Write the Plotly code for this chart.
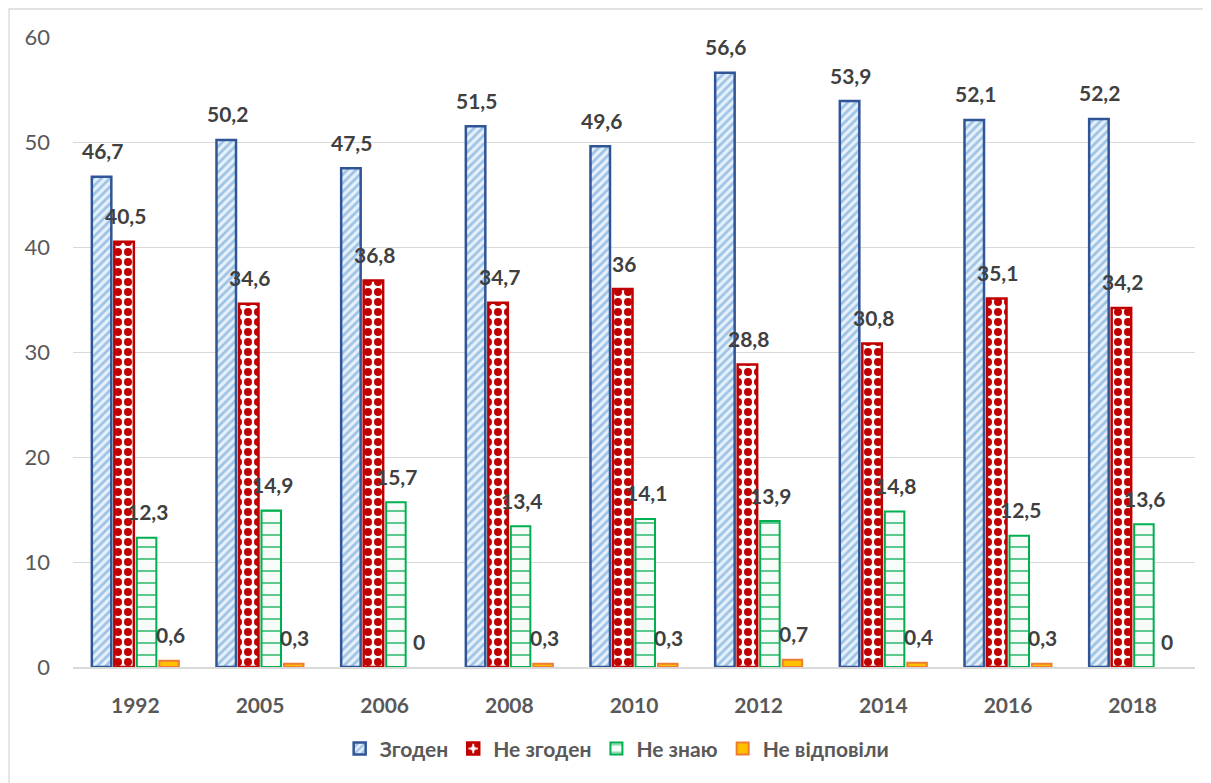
import plotly.graph_objects as go

years = ["1992", "2005", "2006", "2008", "2010", "2012", "2014", "2016", "2018"]
agree = [46.7, 50.2, 47.5, 51.5, 49.6, 56.6, 53.9, 52.1, 52.2]
disagree = [40.5, 34.6, 36.8, 34.7, 36.0, 28.8, 30.8, 35.1, 34.2]
dont_know = [12.3, 14.9, 15.7, 13.4, 14.1, 13.9, 14.8, 12.5, 13.6]
no_answer = [0.6, 0.3, 0.0, 0.3, 0.3, 0.7, 0.4, 0.3, 0.0]
series_names = ["Згоден", "Не згоден", "Не знаю", "Не відповіли"]

FONT = "Lato"
xpos = list(range(len(years)))

def fmt(v):
    s = f"{v:g}"
    return s.replace(".", ",")

styles = [
    dict(line=dict(color="#2F5597", width=2.5),
         pattern=dict(shape="/", fgcolor="#9CC2E5", bgcolor="#E6F0FA", size=6, solidity=0.45, fillmode="replace")),
    dict(line=dict(color="#C00000", width=2.5),
         pattern=dict(shape=".", fgcolor="#C00000", bgcolor="#FFFFFF", size=10, solidity=0.5, fillmode="replace")),
    dict(line=dict(color="#00B050", width=2),
         pattern=dict(shape="-", fgcolor="#4CC383", bgcolor="#F7FCF9", size=12, solidity=0.15, fillmode="replace")),
    dict(line=dict(color="#ED7D31", width=2), color="#FFC000"),
]

fig = go.Figure()
all_series = [agree, disagree, dont_know, no_answer]
for name, vals, st in zip(series_names, all_series, styles):
    st = dict(st)
    line = dict(st["line"])
    line["width"] = [line["width"] if v > 0 else 0 for v in vals]
    st["line"] = line
    fig.add_trace(go.Bar(x=xpos, y=vals, name=name, marker=st, cliponaxis=False))

slot = 22.5
for i, vals in enumerate(all_series):
    for xp, v in zip(xpos, vals):
        fig.add_annotation(x=xp, y=v, xref="x", yref="y", text=fmt(v), showarrow=False,
                           xshift=(i - 1.5) * slot + 1, yshift=26, yanchor="middle",
                           font=dict(family=FONT, size=21, color="#404040", weight="bold"))

# page body has an 8px default margin -> compensate
fig.add_shape(type="rect", xref="paper", yref="paper",
              x0=(1 - 65) / 1122, x1=1.2, y0=-0.5, y1=(659 - 1) / 630,
              line=dict(color="#D9D9D9", width=1.3), fillcolor="rgba(0,0,0,0)", layer="below")

fig.update_layout(
    width=1203, height=775,
    margin=dict(l=65, r=16, t=29, b=116, autoexpand=False),
    paper_bgcolor="white", plot_bgcolor="white",
    barmode="group", bargap=0.278, bargroupgap=0.133,
    showlegend=True,
    legend=dict(orientation="h", x=0.485, xanchor="center", y=-0.13, yanchor="middle",
                font=dict(family=FONT, size=21, color="#595959", weight="bold"),
                itemwidth=30, tracegroupgap=0),
    xaxis=dict(range=[-0.5, len(years) - 0.5], tickvals=xpos, ticktext=years,
               showgrid=False, showline=True, linecolor="#D9D9D9", linewidth=1.5, zeroline=False,
               tickfont=dict(family=FONT, size=21, color="#595959", weight="bold"),
               ticks="", ticklabelstandoff=19, automargin=False),
    yaxis=dict(range=[0, 60], dtick=10, showgrid=True, gridcolor="#D9D9D9", gridwidth=1.3,
               zeroline=False, showline=False, automargin=False,
               tickfont=dict(family=FONT, size=22, color="#595959"),
               ticks="", ticklabelstandoff=22),
)

fig.write_html("out.html")
